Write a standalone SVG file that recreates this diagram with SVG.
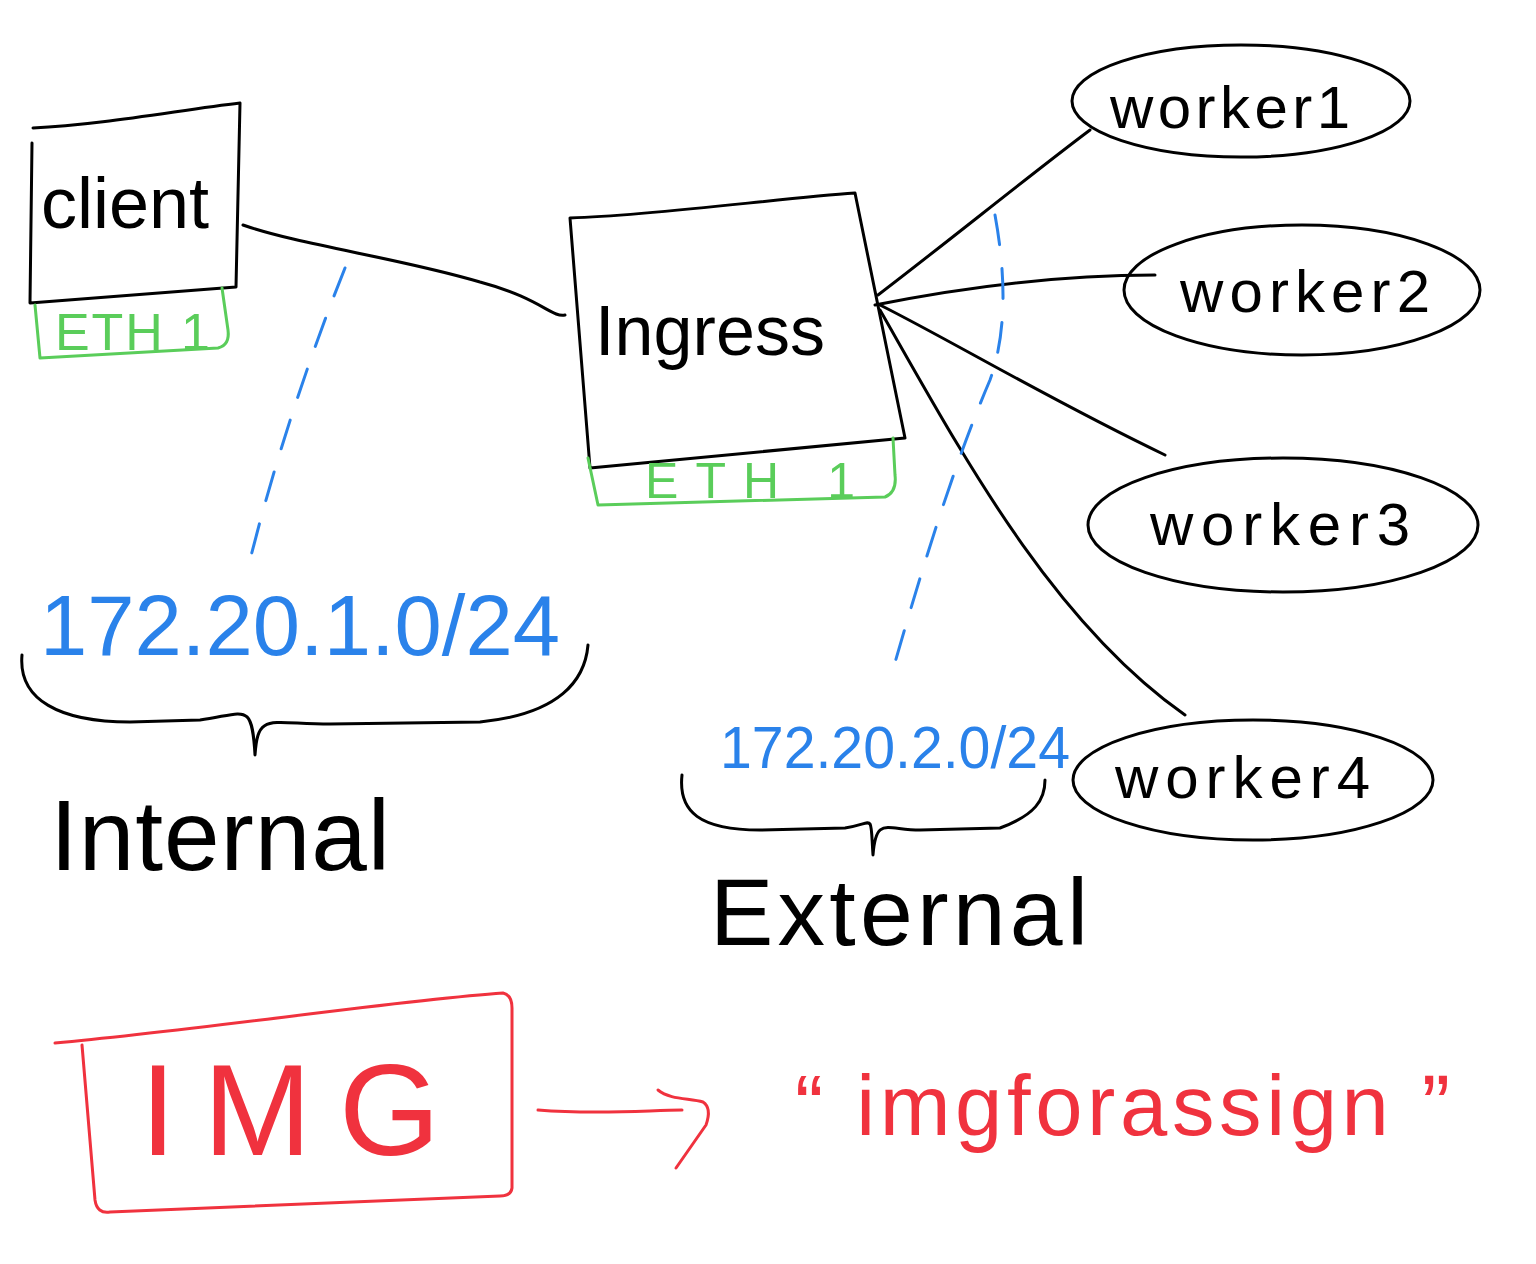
<svg xmlns="http://www.w3.org/2000/svg" width="1536" height="1264" viewBox="0 0 1536 1264">
<style>
.k{fill:none;stroke:#000;stroke-width:3;stroke-linecap:round;stroke-linejoin:round}
.g{fill:none;stroke:#5acd5a;stroke-width:3;stroke-linecap:round;stroke-linejoin:round}
.b{fill:none;stroke:#2a82ea;stroke-width:3;stroke-linecap:round;stroke-dasharray:30 24}
.r{fill:none;stroke:#f0323e;stroke-width:3;stroke-linecap:round;stroke-linejoin:round}
.tk{font-family:"Liberation Sans",Arial,sans-serif;fill:#000}
.tg{font-family:"Liberation Sans",Arial,sans-serif;fill:#5acd5a}
.tb{font-family:"Liberation Sans",Arial,sans-serif;fill:#2a82ea}
.tr{font-family:"Liberation Sans",Arial,sans-serif;fill:#f0323e}
</style>
<rect width="1536" height="1264" fill="#fff"/>
<g id="connectors">
<path class="k" d="M243,225 C300,245 400,258 480,282 C540,298 552,318 565,315"/>
<path class="k" d="M878,295 C950,240 1030,175 1090,130"/>
<path class="k" d="M875,305 C950,290 1050,275 1155,275"/>
<path class="k" d="M880,305 C950,340 1050,400 1165,455"/>
<path class="k" d="M880,310 C960,450 1050,620 1185,715"/>
<path class="b" d="M345,268 C320,330 280,440 250,560"/>
<path class="b" d="M995,215 C1005,270 1008,330 990,380 C960,450 930,540 890,680"/>
</g>
<g id="client">
<path class="k" d="M33,128 C100,125 180,110 240,103 L236,287 L30,303 L32,143"/>
<text class="tk" x="125" y="228" font-size="72" text-anchor="middle">client</text>
</g>
<g id="client-eth">
<path class="g" d="M35,305 L40,358 L218,348 Q230,345 228,330 L222,288"/>
<text class="tg" x="55" y="350" font-size="52" textLength="155" lengthAdjust="spacing">ETH 1</text>
</g>
<g id="ingress">
<path class="k" d="M570,218 C660,215 780,198 855,193 L905,438 L590,468 L570,218"/>
<text class="tk" x="595" y="355" font-size="70" textLength="230" lengthAdjust="spacing">Ingress</text>
</g>
<g id="ingress-eth">
<path class="g" d="M588,458 L598,505 L885,497 Q897,492 895,475 L893,438"/>
<text class="tg" x="645" y="498" font-size="50" textLength="210" lengthAdjust="spacing">ETH 1</text>
</g>
<g id="worker1">
<ellipse class="k" cx="1241" cy="101" rx="169" ry="56"/>
<text class="tk" x="1110" y="128" font-size="60" textLength="240" lengthAdjust="spacing">worker1</text>
</g>
<g id="worker2">
<ellipse class="k" cx="1302" cy="290" rx="178" ry="65"/>
<text class="tk" x="1180" y="312" font-size="60" textLength="250" lengthAdjust="spacing">worker2</text>
</g>
<g id="worker3">
<ellipse class="k" cx="1283" cy="525" rx="195" ry="67"/>
<text class="tk" x="1150" y="545" font-size="60" textLength="260" lengthAdjust="spacing">worker3</text>
</g>
<g id="worker4">
<ellipse class="k" cx="1253" cy="780" rx="180" ry="60"/>
<text class="tk" x="1115" y="798" font-size="60" textLength="255" lengthAdjust="spacing">worker4</text>
</g>
<g id="internal">
<text class="tb" x="40" y="655" font-size="85" textLength="520" lengthAdjust="spacing">172.20.1.0/24</text>
<path class="k" d="M22,655 C18,700 60,722 130,722 L200,720 C245,714 252,700 255,755 C258,712 268,724 330,724 L480,722 C560,714 585,680 588,645"/>
<text class="tk" x="50" y="870" font-size="100" textLength="340" lengthAdjust="spacing">Internal</text>
</g>
<g id="external">
<text class="tb" x="720" y="768" font-size="60" textLength="350" lengthAdjust="spacingAndGlyphs">172.20.2.0/24</text>
<path class="k" d="M682,775 C678,812 700,830 760,830 L845,828 C875,824 870,810 873,855 C876,816 886,830 920,830 L1000,828 C1035,815 1045,800 1045,780"/>
<text class="tk" x="710" y="945" font-size="95" textLength="378" lengthAdjust="spacing">External</text>
</g>
<g id="img">
<path class="r" d="M55,1043 C200,1030 400,1000 503,993 Q512,995 512,1008 L512,1188 Q511,1196 500,1196 L110,1212 Q97,1214 95,1200 L82,1045"/>
<text class="tr" x="140" y="1155" font-size="130" textLength="300" lengthAdjust="spacing">IMG</text>
</g>
<g id="arrow">
<path class="r" d="M538,1110 C600,1115 650,1110 682,1110"/>
<path class="r" d="M658,1090 C670,1100 690,1098 703,1102 Q712,1108 706,1125 L676,1168"/>
</g>
<g id="imgname">
<text class="tr" x="795" y="1135" font-size="85" textLength="655" lengthAdjust="spacing">“ imgforassign ”</text>
</g>
</svg>
